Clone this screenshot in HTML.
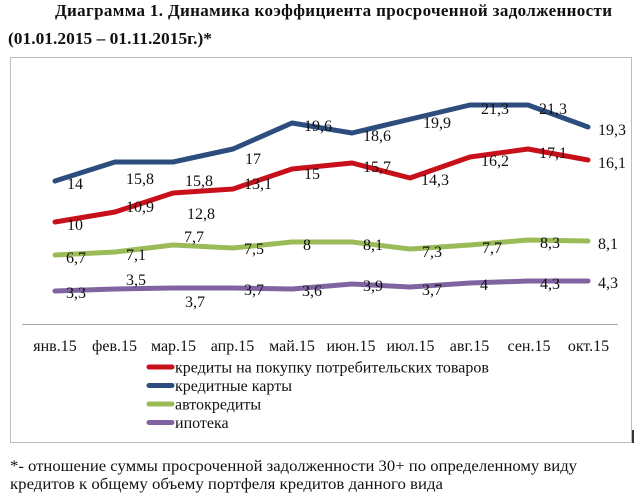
<!DOCTYPE html>
<html>
<head>
<meta charset="utf-8">
<style>
html,body{margin:0;padding:0;background:#fff;}
svg{display:block;}
text{font-family:"Liberation Serif","DejaVu Serif",serif;fill:#111;}
</style>
</head>
<body>
<svg width="640" height="493" viewBox="0 0 640 493" xmlns="http://www.w3.org/2000/svg">
  <!-- Title -->
  <text x="55" y="16" font-size="17" font-weight="bold" textLength="557" lengthAdjust="spacing">Диаграмма 1. Динамика коэффициента просроченной задолженности</text>
  <text x="8" y="44" font-size="17" font-weight="bold" textLength="204" lengthAdjust="spacingAndGlyphs">(01.01.2015 – 01.11.2015г.)*</text>

  <!-- Chart box -->
  <rect x="10.5" y="57.5" width="621" height="385" fill="none" stroke="#bdbdbd" stroke-width="1"/>
  <line x1="633" y1="430" x2="633" y2="443" stroke="#333" stroke-width="2"/>

  <!-- Axis -->
  <line x1="22" y1="324.5" x2="618" y2="324.5" stroke="#a6a6a6" stroke-width="1"/>

  <!-- Series lines -->
  <g fill="none" stroke-width="5" stroke-linejoin="round" stroke-linecap="round">
    <polyline stroke="#2c4d7d" points="55,181 115,162 173,162 233,149 292,123 352,133 411,119 470,105 528,105 588,127"/>
    <polyline stroke="#c8101a" points="55,222 115,212 173,193 233,189 292,169 352,163 410,178 470,157 528,149 588,160"/>
    <polyline stroke="#9bbb59" points="55,255 115,252 173,245 233,248 292,242 352,242 410,249 470,245 528,240 588,241"/>
    <polyline stroke="#8064a2" points="55,291 115,289 173,288 233,288 292,289 352,284 410,287 470,283 528,281 588,281"/>
  </g>

  <!-- Data labels -->
  <g font-size="16" text-anchor="middle">
    <!-- blue -->
    <text x="75" y="189">14</text>
    <text x="140" y="184">15,8</text>
    <text x="199" y="186">15,8</text>
    <text x="253" y="164">17</text>
    <text x="318" y="131">19,6</text>
    <text x="377" y="141">18,6</text>
    <text x="437" y="128">19,9</text>
    <text x="495" y="114">21,3</text>
    <text x="553" y="114">21,3</text>
    <text x="612" y="135">19,3</text>
    <!-- red -->
    <text x="75" y="230">10</text>
    <text x="140" y="212">10,9</text>
    <text x="201" y="219">12,8</text>
    <text x="258" y="189">13,1</text>
    <text x="312" y="179">15</text>
    <text x="377" y="172">15,7</text>
    <text x="435" y="185">14,3</text>
    <text x="495" y="166">16,2</text>
    <text x="553" y="158">17,1</text>
    <text x="612" y="168">16,1</text>
    <!-- green -->
    <text x="76" y="263">6,7</text>
    <text x="136" y="260">7,1</text>
    <text x="194" y="242">7,7</text>
    <text x="254" y="254">7,5</text>
    <text x="307" y="250">8</text>
    <text x="373" y="250">8,1</text>
    <text x="432" y="257">7,3</text>
    <text x="492" y="253">7,7</text>
    <text x="550" y="248">8,3</text>
    <text x="608" y="249">8,1</text>
    <!-- purple -->
    <text x="76" y="298">3,3</text>
    <text x="136" y="285">3,5</text>
    <text x="195" y="307">3,7</text>
    <text x="254" y="295">3,7</text>
    <text x="312" y="296">3,6</text>
    <text x="373" y="291">3,9</text>
    <text x="432" y="295">3,7</text>
    <text x="484" y="290">4</text>
    <text x="550" y="289">4,3</text>
    <text x="608" y="288">4,3</text>
  </g>

  <!-- Month labels -->
  <g font-size="16" text-anchor="middle">
    <text x="55" y="351">янв.15</text>
    <text x="114.5" y="351">фев.15</text>
    <text x="173.5" y="351">мар.15</text>
    <text x="232.5" y="351">апр.15</text>
    <text x="292" y="351">май.15</text>
    <text x="351" y="351">июн.15</text>
    <text x="410.5" y="351">июл.15</text>
    <text x="469.5" y="351">авг.15</text>
    <text x="529" y="351">сен.15</text>
    <text x="588.5" y="351">окт.15</text>
  </g>

  <!-- Legend -->
  <g stroke-width="5" stroke-linecap="round">
    <line x1="149" y1="367" x2="172" y2="367" stroke="#c8101a"/>
    <line x1="149" y1="385.5" x2="172" y2="385.5" stroke="#2c4d7d"/>
    <line x1="149" y1="404" x2="172" y2="404" stroke="#9bbb59"/>
    <line x1="149" y1="422.5" x2="172" y2="422.5" stroke="#8064a2"/>
  </g>
  <g font-size="16">
    <text x="175" y="372.5">кредиты на покупку потребительских товаров</text>
    <text x="175" y="391">кредитные карты</text>
    <text x="175" y="409.5">автокредиты</text>
    <text x="175" y="428">ипотека</text>
  </g>

  <!-- Footer -->
  <text x="10" y="471" font-size="16" textLength="567" lengthAdjust="spacingAndGlyphs">*- отношение суммы просроченной задолженности 30+ по определенному виду</text>
  <text x="10" y="489" font-size="16" textLength="433" lengthAdjust="spacingAndGlyphs">кредитов к общему объему портфеля кредитов данного вида</text>
</svg>
</body>
</html>
